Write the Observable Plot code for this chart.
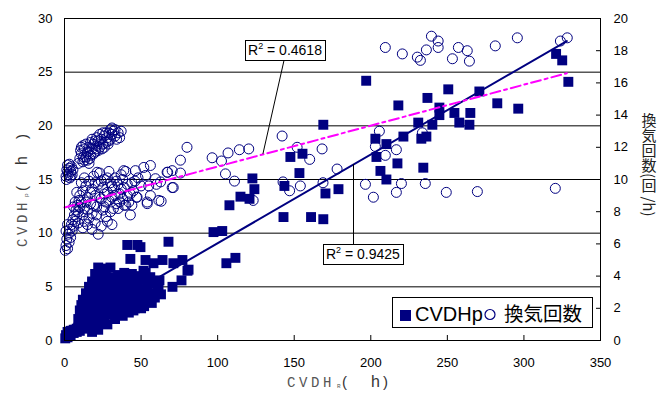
<!DOCTYPE html>
<html><head><meta charset="utf-8">
<script src="https://cdn.jsdelivr.net/npm/d3@7"></script>
<script src="https://cdn.jsdelivr.net/npm/@observablehq/plot@0.6"></script>
<style>body{margin:0;background:#fff}</style>
</head><body><div id="chart"></div>
<script>
// CVDHp (left axis, h) vs CVDH_R (h)
const cvdhpPoints = [
[0.5,0.2],[1,0.5],[2,0.3],[2,0.8],[3,0.7],[4,0.5],[4,0.9],[5,0.9],[6,0.7],[6,1.0],[7,1.0],[8,0.8],[8,1.1],[9,1.2],[9,2.0],[10,0.9],[10,2.8],[11,1.4],[11,3.3],[12,1.1],[12,3.8],[13,1.6],[14,1.3],[14,4.4],[15,1.9],[15,3.6],[16,1.5],[16,5.0],[17,2.2],[17,4.2],[18,0.8],[18,1.7],[18,5.5],[19,2.5],[19,4.8],[20,1.4],[20,6.2],[21,2.9],[21,5.3],[22,1.0],[22,2.0],[22,6.8],[23,3.2],[23,5.8],[24,2.3],[24,4.9],[25,3.6],[25,6.5],[26,1.9],[26,5.6],[27,2.7],[27,6.2],[28,1.5],[28,4.0],[28,4.7],[29,2.4],[29,5.4],[30,3.3],[30,6.8],[31,4.4],[32,2.8],[32,5.9],[33,2.0],[33,3.7],[33,5.2],[34,4.7],[35,2.5],[35,6.1],[36,3.1],[37,4.1],[37,5.6],[38,2.3],[38,5.0],[39,3.0],[39,6.3],[40,3.6],[41,4.5],[42,2.6],[42,5.8],[43,3.3],[44,4.9],[44,6.2],[45,2.8],[45,3.9],[46,3.0],[46,5.4],[47,4.2],[48,5.2],[48,6.0],[49,3.5],[50,3.0],[50,4.6],[51,5.7],[52,3.2],[53,4.1],[53,6.3],[54,5.0],[55,3.7],[56,5.9],[57,3.5],[57,4.4],[58,5.3],[59,4.0],[60,5.5],[61,4.8],[62,5.6],[63,4.3],
[10,1.8],[11,2.3],[12,2.6],[13,2.9],[13,2.2],[14,3.0],[15,2.7],[16,3.2],[16,2.5],[17,3.4],[18,2.9],[19,3.6],[20,3.1],[20,4.2],[21,4.0],[22,3.5],[23,4.4],[24,3.8],[25,4.6],[26,4.0],[26,3.0],[27,3.4],[29,3.8],[31,3.6],[34,3.6],[36,4.3],[40,4.6],[43,4.2],[47,3.3],
[169,20.1],[147.5,17.1],[155.4,17.4],[153.4,15.6],[122.7,15.1],[143.6,14.4],[124,14.1],[114.9,13.4],[120.8,13.2],[107.7,12.6],[170.4,13.7],[178.9,14.1],[143,11.5],[161,11.5],[169,11.3],[97.3,10.1],[103,10.2],[67.9,9.2],[105.7,7.2],[111.6,7.7],[52.9,7.5],[58.1,7.2],[64,7.5],[71.1,7.2],[77,7.5],[80.3,6.5],[76.4,5.6],[70.5,5.0],[61.4,5.1],[56.1,5.3],[51.6,6.5],[49.6,8.7],[53,4.7],[49.6,3.7],[41,8.9],[47.6,8.9],[43,7.6],[25.5,6.7],[38.5,6.0],[18.3,5.3],[24.8,5.6],[81,6.6],
[197,24.2],[321,26.7],[325,26.1],[329,24.1],[250.6,23.4],[270.9,23.2],[237,22.6],[218,21.9],[282.6,22.1],[296.3,21.6],[244.8,21.7],[244.8,21.0],[254.6,21.2],[265,21.2],[257.8,20.3],[264.4,20.1],[231,20.3],[240.2,20.1],[221.3,19.0],[236.3,19.0],[233,18.8],[203,18.8],[210.2,18.3],[203.7,17.1],[217.4,16.5],[234.3,16.1],[206.3,15.8],[210.2,15.0]
];
// Air change rate (right axis, 1/h) vs CVDH_R (h)
const achPoints = [
[1,10.2],[1.5,10.6],[2,10.9],[2.5,10.3],[3,10.7],[3.5,10.1],[4,10.5],[4.5,10.8],[5,10.3],[2,10.45],[3.2,10.95],[4.2,10.2],[1.2,10.0],[5.5,10.6],
[10,11.3],[11,11.6],[12,11.1],[13,11.9],[14,11.4],[15,11.7],[16,12.0],[17,11.5],[18,11.9],[19,12.2],[20,11.7],[21,12.1],[22,12.4],[23,12.0],[24,12.5],[25,12.2],[26,12.7],[27,12.3],[28,12.6],[29,12.9],[30,12.5],[31,12.8],[32,13.0],[33,12.7],[35,12.9],[36,12.6],[37,13.0],[12.5,11.4],[16.5,11.3],[20.5,11.9],[24.5,11.9],[28.5,12.2],
[9,11.0],[11,12.0],[13,11.2],[14,12.2],[15,11.2],[17,12.3],[19,11.6],[21,12.6],[23,12.8],[25,12.9],[27,12.9],[29,12.4],[31,13.2],[33,13.1],[34,12.5],[26,12.0],[22,11.8],[18,12.5],[30,13.1],[10.5,11.8],[12,12.1],[16,11.0],[20,12.4],
[0.5,5.6],[1,5.9],[1.5,6.3],[2,5.7],[2.5,6.6],[3,6.1],[3.5,6.9],[4,6.4],[4.5,7.2],[5,6.8],[5.5,7.5],[6,7.1],[6.5,7.8],[7,7.4],[7.5,8.1],[8,7.7],[8.5,8.4],[9,8.0],[9.5,8.7],[10,8.3],[1,6.8],[2,7.2],
[12,7.0],[15,7.2],[18,6.9],[20,7.3],[24,7.1],[28,7.4],[31,7.2],[22,6.6],
[10,9.0],[11,8.6],[12,9.3],[13,8.2],[14,9.6],[15,8.9],[16,9.9],[17,8.5],[18,9.4],[19,10.2],[20,9.0],[21,8.3],[22,9.7],[23,10.4],[24,8.8],[25,9.5],[26,10.0],[27,8.6],[28,9.2],[29,10.5],[30,9.8],[31,8.9],[32,9.4],[33,10.1],[34,8.5],[35,9.7],[36,9.1],[37,10.3],[38,8.8],[39,9.5],[40,10.5],[41,9.0],[42,8.6],[44,9.8],[45,9.3],[47,8.9],[48,10.1],[50,9.6],[12,7.8],[15,8.1],[18,7.9],[26,8.3],[30,8.0],[35,8.2],[40,8.4],[43,7.8],
[11,9.8],[13,10.1],[14,8.6],[16,7.6],[17,9.2],[19,8.4],[20,9.8],[21,7.8],[23,8.9],[24,9.9],[25,8.1],[26,9.1],[27,7.7],[28,10.1],[29,8.7],[31,9.6],[32,8.2],[33,9.0],[34,9.9],[36,8.6],[37,9.4],[38,10.0],[39,8.4],[41,9.7],[43,9.1],[44,8.4],[46,9.9],[13,7.4],[9,7.3],[7,8.6],[8,9.2],[6,8.3],
[21.3,10.45],[38.7,10.55],[46.3,10.55],[51.8,10.75],[56.1,10.87],[52.9,10.25],[59.4,10.05],[55,9.6],[62.7,9.85],[67,10.45],[70.3,9.5],[47.4,8.9],[54,8.6],[61.6,8.7],
[80,12.0],[75.7,11.2],[96.4,11.35],[102.5,11.15],[106.8,11.65],[114.2,11.85],[120.3,11.9],[142.1,12.7],[151.9,12.0],[168.2,11.9],[160.1,11.25],[178,10.65],[105.1,10.35],[111,9.9],[142.7,9.85],[154,9.6],[147,9.3],[168.8,9.8],[123.2,8.7],[71,9.5],[63.1,8.65],[56.1,9.0],[54,8.5],[60,9.7],[67.4,10.45],[70.3,10.55],[75.7,10.4],
[209.5,18.2],[220.6,17.8],[239.6,18.9],[244,18.6],[244,18.2],[236.3,18.05],[230.4,17.6],[232.4,17.4],[257.2,18.2],[263,18.0],[253.3,17.5],[264.4,17.35],[281.3,18.3],[295.7,18.8],[323.8,18.6],[328.3,18.8],
[205.6,13.0],[233.7,12.9],[203,12.05],[216.7,11.85],[209.5,11.5],
[196.5,9.7],[201.7,8.9],[216.7,9.2],[220,9.75],[235.6,9.75],[249.3,9.2],[269.6,9.25],[320.5,9.45]
];
// trend lines (x extent, fitted values)
const trendX = [0, 328];
const trendCvdhp = [0.8, 27.9];      // left axis
const trendAch = [8.26, 16.6];       // right axis
const r2Labels = ["0.4618", "0.9425"];
const xTicks = [0, 50, 100, 150, 200, 250, 300, 350];
const yTicks = [0, 5, 10, 15, 20, 25, 30];
const rightTicks = [0, 2, 4, 6, 8, 10, 12, 14, 16, 18, 20];
const xDomain = [0, 350], yDomain = [0, 30], rightDomain = [0, 20];
const k = yDomain[1] / rightDomain[1];

const NAVY = "#000080", MAG = "#ff00ff";
const lineP = trendX.map((x, i) => ({x, y: trendCvdhp[i]}));
const lineA = trendX.map((x, i) => ({x, y: trendAch[i] * k}));

const plot = Plot.plot({
  width: 663, height: 399,
  marginLeft: 64, marginRight: 63, marginTop: 18, marginBottom: 59,
  x: {domain: xDomain},
  y: {domain: yDomain},
  style: {fontFamily: "'Liberation Sans', Arial, sans-serif", fontSize: "13px", color: "black", background: "white", overflow: "visible"},
  marks: [
    Plot.gridY(yTicks.filter(d => d > 0), {stroke: "black", strokeOpacity: 1}),
    Plot.dot(cvdhpPoints, {x: d => d[0], y: d => d[1], symbol: "square", r: 5.6, fill: NAVY, stroke: "none"}),
    Plot.dot(achPoints, {x: d => d[0], y: d => d[1] * k, r: 5, stroke: NAVY, fill: "none", strokeWidth: 1}),
    Plot.line(lineP, {x: "x", y: "y", stroke: NAVY, strokeWidth: 2}),
    Plot.line(lineA, {x: "x", y: "y", stroke: MAG, strokeWidth: 2, strokeDasharray: "10,4,3,4"}),
    Plot.ruleX(xDomain, {stroke: "black"}),
    Plot.ruleY([yDomain[0]], {stroke: "black"}),
    Plot.axisY({ticks: yTicks, tickSize: 0, tickPadding: 12, label: null}),
    Plot.axisY({anchor: "right", ticks: rightTicks.map(d => d * k), tickFormat: d => String(Math.round(d / k)), tickSize: 0, tickPadding: 13, label: null}),
    Plot.axisY({anchor: "right", ticks: rightTicks.map(d => d * k), tickFormat: () => "", tickSize: 5, dx: -5, label: null}),
    Plot.axisX({ticks: xTicks, tickSize: 0, tickPadding: 17, label: null}),
    Plot.axisX({ticks: xTicks, tickFormat: () => "", tickSize: 5, dy: -5, label: null})
  ]
});
document.getElementById("chart").appendChild(plot);

const sx = plot.scale("x"), sy = plot.scale("y");
const svg = d3.select(plot);
const g = svg.append("g").attr("font-family", "'Liberation Sans', Arial, sans-serif").attr("text-anchor", "start");

// callouts
const callouts = [
  {label: r2Labels[0], cx: 144.3, cy: 27.0, edge: "bottom", px: 129.9},
  {label: r2Labels[1], cx: 195.2, cy: 7.97, edge: "top", px: 188.6}
];
const frac = x => (x - trendX[0]) / (trendX[1] - trendX[0]);
callouts[0].py = (trendAch[0] + (trendAch[1] - trendAch[0]) * frac(callouts[0].px)) * k;
callouts[1].py = trendCvdhp[0] + (trendCvdhp[1] - trendCvdhp[0]) * frac(callouts[1].px);
callouts.forEach(c => {
  const X = sx.apply(c.cx), Y = sy.apply(c.cy);
  const lg = g.append("g");
  const leader = lg.append("line").attr("stroke", "black").attr("stroke-width", 1);
  const rect = lg.append("rect").attr("fill", "white").attr("stroke", "black").attr("stroke-width", 1);
  const t = lg.append("text").attr("x", X).attr("y", Y + 5).attr("text-anchor", "middle").attr("font-size", 14);
  t.append("tspan").text("R");
  t.append("tspan").attr("font-size", 9).attr("dy", -6).text("2");
  t.append("tspan").attr("dy", 6).text(" = " + c.label);
  const bb = t.node().getBBox();
  const w = Math.round(bb.width + 6), h = 20;
  const x0 = Math.round(X - w / 2) + 0.5, y0 = Math.round(Y - h / 2) + 0.5;
  rect.attr("x", x0).attr("y", y0).attr("width", w).attr("height", h);
  if (c.edge === "bottom") {
    leader.attr("x1", X - 1).attr("y1", y0 + h).attr("x2", sx.apply(c.px)).attr("y2", sy.apply(c.py));
  } else {
    const lx = Math.round(sx.apply(c.px)) + 0.5;
    leader.attr("x1", lx).attr("y1", y0).attr("x2", lx).attr("y2", sy.apply(c.py));
  }
});

// legend
const lgd = g.append("g");
lgd.append("rect").attr("x", 392.5).attr("y", 297.5).attr("width", 200).attr("height", 30).attr("fill", "white").attr("stroke", "black");
lgd.append("rect").attr("x", 400).attr("y", 310).attr("width", 11).attr("height", 11).attr("fill", NAVY);
lgd.append("text").attr("x", 415).attr("y", 321).attr("font-size", 20).text("CVDHp");
lgd.append("circle").attr("cx", 490).attr("cy", 314.5).attr("r", 5).attr("fill", "none").attr("stroke", NAVY).attr("stroke-width", 1.2);
lgd.append("text").attr("x", 504).attr("y", 321).attr("font-size", 19.5).attr("font-family", "'Noto Sans CJK JP', sans-serif").text("換気回数");

// axis titles
function axisTitle(parent, sub, offs) {
  const mono = "'Liberation Mono', 'DejaVu Sans Mono', monospace";
  parent.append("text").attr("x", 0).attr("y", 0).attr("font-family", mono).attr("font-size", 14).attr("letter-spacing", 3.6).attr("fill", "#555").text("CVDH");
  parent.append("text").attr("x", offs[0]).attr("y", 1).attr("font-family", mono).attr("font-size", 6).attr("fill", "#555").text(sub);
  parent.append("text").attr("x", offs[1]).attr("y", 0).attr("font-size", 15).attr("fill", "#333").text("(");
  parent.append("text").attr("x", offs[2]).attr("y", 0).attr("font-size", 16).attr("fill", "#333").text("h");
  parent.append("text").attr("x", offs[3]).attr("y", 0).attr("font-size", 15).attr("fill", "#333").text(")");
}
axisTitle(g.append("g").attr("transform", "translate(287,387)"), "R", [50, 55, 84, 96]);
axisTitle(g.append("g").attr("transform", "translate(27,247) rotate(-90)"), "p", [50, 56, 82, 108]);
g.append("text").attr("x", 649).attr("y", 113).attr("font-family", "'Noto Sans CJK JP', sans-serif").attr("font-size", 15).attr("fill", "#222")
  .style("writing-mode", "vertical-rl").text("換気回数(回 /h)");
</script>
</body></html>
